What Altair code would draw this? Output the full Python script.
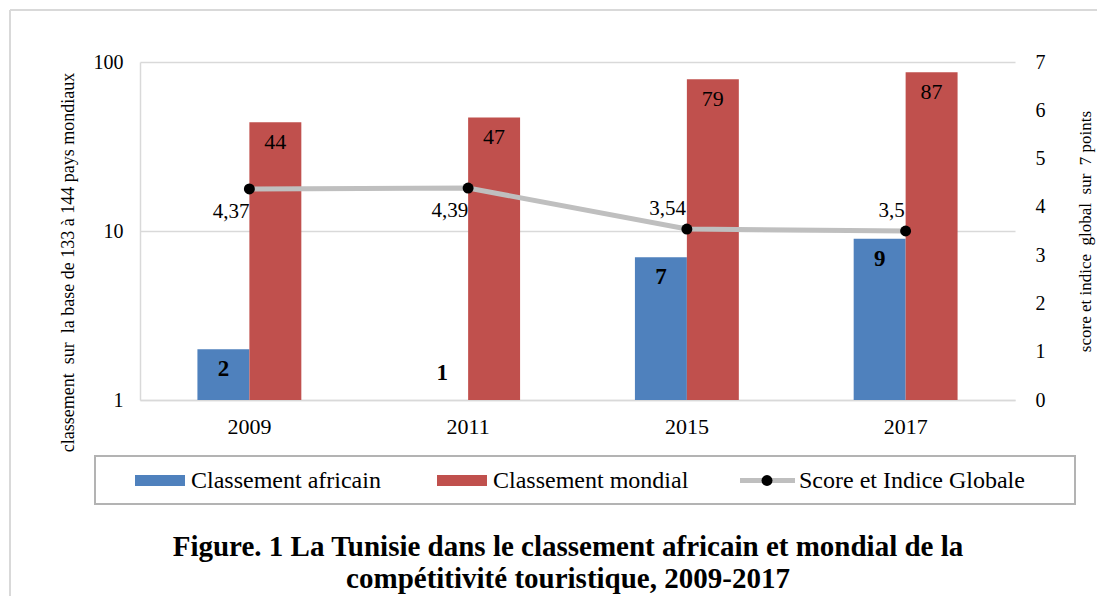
import altair as alt
import pandas as pd

# ---------------- data ----------------
years = ["2009", "2011", "2015", "2017"]
classement_africain = [2, 1, 7, 9]
classement_mondial = [44, 47, 79, 87]
score_indice = [4.37, 4.39, 3.54, 3.5]
series_names = ["Classement africain", "Classement mondial"]
line_name = "Score et Indice Globale"
left_ticks = [1, 10, 100]
right_ticks = [0, 1, 2, 3, 4, 5, 6, 7]
NB = "\u00a0"
left_title = f"classement {NB}sur {NB}la base de 133 à 144 pays mondiaux"
right_title = f"score et indice {NB}global {NB}sur {NB}7 points"
title_lines = [
    "Figure. 1 La Tunisie dans le classement africain et mondial de la",
    "compétitivité touristique, 2009-2017",
]

BLUE = "#4f81bd"
RED = "#c0504d"
GRAY = "#bfbfbf"
GRID = "#d9d9d9"
FONT = "Liberation Serif"

bars_df = pd.DataFrame({
    "year": years * 2,
    "series": [series_names[0]] * len(years) + [series_names[1]] * len(years),
    "value": classement_africain + classement_mondial,
})
score_df = pd.DataFrame({"year": years, "score": score_indice})

# ---------------- encodings ----------------
x_enc = alt.X(
    "year:N", sort=years,
    scale=alt.Scale(paddingInner=0.525, paddingOuter=0.2625),
    axis=alt.Axis(title=None, labelAngle=0, ticks=False, tickSize=0, labelPadding=16,
                  labelFontSize=22, labelFont=FONT, labelColor="#000",
                  domainColor=GRID, domainWidth=1.5),
)
xoff_enc = alt.XOffset("series:N", sort=series_names, scale=alt.Scale(domain=series_names))

left_axis = alt.Axis(values=left_ticks, format="d", title=left_title,
                     titleFont=FONT, titleFontSize=18, titleFontWeight="normal",
                     titleColor="#000", titleAngle=270, titleX=-72, titleY=200,
                     titleAlign="center", titleBaseline="middle",
                     labelFont=FONT, labelFontSize=20, labelColor="#000", labelPadding=17,
                     ticks=False, tickSize=0, grid=True, gridColor=GRID, gridWidth=1.5,
                     domainColor=GRID, domainWidth=1.5)
left_scale = alt.Scale(type="log", domain=[1, 100], nice=False)
y_left = alt.Y("value:Q", scale=left_scale, axis=left_axis, stack=None)

y_right = alt.Y(
    "score:Q",
    scale=alt.Scale(domain=[0, 7], nice=False, zero=True),
    axis=alt.Axis(orient="right", values=right_ticks, title=right_title,
                  titleFont=FONT, titleFontSize=17, titleFontWeight="normal",
                  titleColor="#000", titleAngle=270, titleX=70, titleY=169,
                  titleAlign="center", titleBaseline="middle",
                  labelFont=FONT, labelFontSize=20, labelColor="#000", labelPadding=20,
                  grid=False, domain=False, ticks=False, tickSize=0),
)

# ---------------- bars + labels (left log axis) ----------------
bars = alt.Chart(bars_df).mark_bar().encode(
    x=x_enc, xOffset=xoff_enc, y=y_left, y2=alt.datum(1),
    color=alt.Color("series:N", scale=alt.Scale(domain=series_names, range=[BLUE, RED]), legend=None),
)

afr_labels = alt.Chart(bars_df).transform_filter(
    alt.datum.series == series_names[0]
).transform_calculate(
    lab="datum.value", value="datum.value > 1 ? datum.value : 1.9"
).mark_text(font=FONT, fontSize=23, fontWeight="bold", dy=20, baseline="middle", color="#000").encode(
    x=x_enc, xOffset=xoff_enc, y=y_left, text="lab:N",
)

mon_labels = alt.Chart(bars_df).transform_filter(
    alt.datum.series == series_names[1]
).mark_text(font=FONT, fontSize=22, dy=20, baseline="middle", color="#000").encode(
    x=x_enc, xOffset=xoff_enc, y=y_left, text="value:Q",
)

left_group = alt.layer(bars, afr_labels, mon_labels)

# ---------------- line + labels (right axis) ----------------
line = alt.Chart(score_df).mark_line(color=GRAY, strokeWidth=5).encode(x=x_enc, y=y_right)
points = alt.Chart(score_df).mark_point(filled=True, color="#000", opacity=1, size=120).encode(x=x_enc, y=y_right)

lab_calc = "replace(format(datum.score, '.2~f'), '.', ',')"
lab_below = alt.Chart(score_df).transform_filter(
    alt.FieldOneOfPredicate(field="year", oneOf=years[:2])
).transform_calculate(lab=lab_calc).mark_text(
    font=FONT, fontSize=21, align="right", baseline="middle", dx=0, dy=23, color="#000"
).encode(x=x_enc, y=y_right, text="lab:N")

lab_above = alt.Chart(score_df).transform_filter(
    alt.FieldOneOfPredicate(field="year", oneOf=years[2:])
).transform_calculate(lab=lab_calc).mark_text(
    font=FONT, fontSize=21, align="right", baseline="middle", dx=-1, dy=-20, color="#000"
).encode(x=x_enc, y=y_right, text="lab:N")

right_group = alt.layer(line, points, lab_below, lab_above)

# ---------------- decoration: frame, legend, caption ----------------
one = pd.DataFrame({"k": [0]})
deco = []
deco.append(alt.Chart(one).mark_rule(color=GRID, strokeWidth=2).encode(
    x=alt.value(-130), y=alt.value(-52), y2=alt.value(620)))
deco.append(alt.Chart(one).mark_rule(color=GRID, strokeWidth=2).encode(
    x=alt.value(-130), x2=alt.value(1100), y=alt.value(-52)))
deco.append(alt.Chart(one).mark_rect(filled=False, stroke="#b3b3b3", strokeWidth=2).encode(
    x=alt.value(-45), x2=alt.value(935), y=alt.value(394), y2=alt.value(442)))

legend_items = [
    (series_names[0], "bar", BLUE, -5),
    (series_names[1], "bar", RED, 297),
    (line_name, "line", GRAY, 600),
]
for name, kind, col, x0 in legend_items:
    if kind == "bar":
        deco.append(alt.Chart(one).mark_rule(color=col, strokeWidth=11, strokeCap="butt").encode(
            x=alt.value(x0), x2=alt.value(x0 + 50), y=alt.value(418.5)))
        tx = x0 + 56
    else:
        deco.append(alt.Chart(one).mark_rule(color=col, strokeWidth=5, strokeCap="butt").encode(
            x=alt.value(x0), x2=alt.value(x0 + 55), y=alt.value(418.5)))
        deco.append(alt.Chart(one).mark_point(filled=True, color="#000", opacity=1, size=120).encode(
            x=alt.value(x0 + 27), y=alt.value(418.5)))
        tx = x0 + 59
    deco.append(alt.Chart(pd.DataFrame({"label": [name]})).mark_text(
        font=FONT, fontSize=24, align="left", baseline="middle", color="#000").encode(
        x=alt.value(tx), y=alt.value(418.5), text="label:N"))

deco.append(alt.Chart(one).mark_text(
    font=FONT, fontSize=29, fontWeight="bold", align="center", baseline="top",
    lineHeight=32, color="#000").encode(
    x=alt.value(428), y=alt.value(471), text=alt.value(title_lines)))

chart = alt.layer(left_group, right_group, *deco).resolve_scale(
    y="independent"
).properties(
    width=875, height=338,
    padding={"left": 132, "top": 54, "right": 82, "bottom": 196},
    autosize="none", background="white",
).configure_view(stroke=None)

chart.save("out.html", embed_options={"renderer": "svg", "actions": False})
